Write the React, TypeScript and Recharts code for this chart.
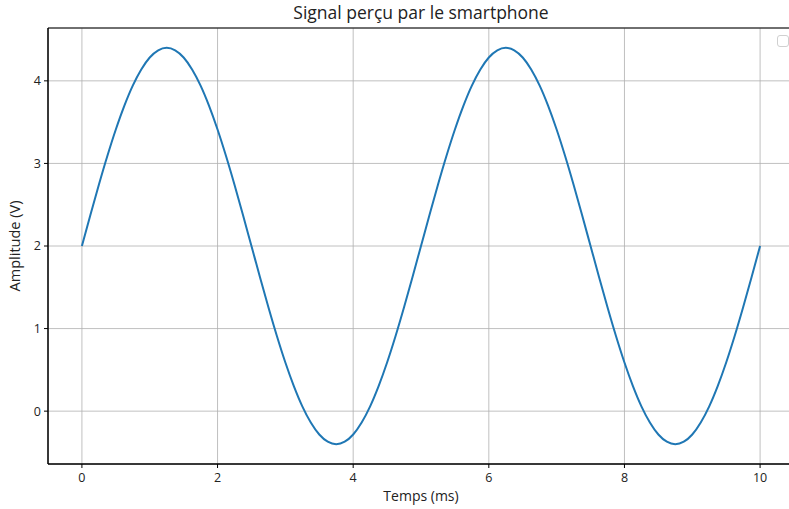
import React from "react";
import { LineChart, Line, XAxis, YAxis, CartesianGrid, ReferenceArea, Label } from "recharts";

const timeMs = [
  0, 0.125, 0.25, 0.375, 0.5, 0.625, 0.75, 0.875, 1, 1.125, 1.25, 1.375, 1.5, 1.625, 1.75, 1.875, 2, 2.125, 2.25, 2.375,
  2.5, 2.625, 2.75, 2.875, 3, 3.125, 3.25, 3.375, 3.5, 3.625, 3.75, 3.875, 4, 4.125, 4.25, 4.375, 4.5, 4.625, 4.75, 4.875,
  5, 5.125, 5.25, 5.375, 5.5, 5.625, 5.75, 5.875, 6, 6.125, 6.25, 6.375, 6.5, 6.625, 6.75, 6.875, 7, 7.125, 7.25, 7.375,
  7.5, 7.625, 7.75, 7.875, 8, 8.125, 8.25, 8.375, 8.5, 8.625, 8.75, 8.875, 9, 9.125, 9.25, 9.375, 9.5, 9.625, 9.75, 9.875, 10,
];
const amplitudeV = [
  2.0, 2.375, 2.742, 3.09, 3.411, 3.697, 3.942, 4.138, 4.283, 4.37, 4.4, 4.37, 4.283, 4.138, 3.942, 3.697, 3.411, 3.09, 2.742, 2.375,
  2.0, 1.625, 1.258, 0.91, 0.589, 0.303, 0.058, -0.138, -0.283, -0.37, -0.4, -0.37, -0.283, -0.138, 0.058, 0.303, 0.589, 0.91, 1.258, 1.625,
  2.0, 2.375, 2.742, 3.09, 3.411, 3.697, 3.942, 4.138, 4.283, 4.37, 4.4, 4.37, 4.283, 4.138, 3.942, 3.697, 3.411, 3.09, 2.742, 2.375,
  2.0, 1.625, 1.258, 0.91, 0.589, 0.303, 0.058, -0.138, -0.283, -0.37, -0.4, -0.37, -0.283, -0.138, 0.058, 0.303, 0.589, 0.91, 1.258, 1.625, 2.0,
];
const xTicks = [0, 2, 4, 6, 8, 10];
const yTicks = [0, 1, 2, 3, 4];
const xDomain: [number, number] = [-0.5, 10.5];
const yDomain: [number, number] = [-0.64, 4.64];

const data = timeMs.map((t, i) => ({ t, v: amplitudeV[i] }));

const FONT = "'Open Sans', sans-serif";
const TXT = "#222";

export default function App() {
  return (
    <div style={{ position: "absolute", left: 0, top: 0, width: 789, height: 509, overflow: "hidden", background: "#fff" }}>
      <div style={{ position: "absolute", left: 0, top: 0, width: 842, textAlign: "center", fontFamily: FONT, fontSize: 17.5, lineHeight: "24px", color: TXT }}>
        Signal perçu par le smartphone
      </div>
      <div
        style={{
          position: "absolute",
          left: 777,
          top: 35,
          width: 12,
          height: 12,
          border: "1px solid #d0d0d0",
          borderRadius: 3,
          boxSizing: "border-box",
          background: "#fff",
        }}
      />
      <div style={{ position: "absolute", left: 0, top: 0 }}>
        <LineChart width={800} height={509} data={data} margin={{ top: 28, right: 6, bottom: 0, left: 0 }}>
          <CartesianGrid stroke="#b0b0b0" strokeWidth={0.8} />
          <XAxis
            dataKey="t"
            type="number"
            domain={xDomain}
            ticks={xTicks}
            allowDataOverflow
            height={45}
            tickSize={4}
            tickMargin={5}
            stroke="#000"
            tick={{ fill: TXT, fontSize: 12.5, fontFamily: FONT }}
          >
            <Label value="Temps (ms)" position="insideBottom" offset={8} style={{ fill: TXT, fontSize: 14, fontFamily: FONT }} />
          </XAxis>
          <YAxis
            type="number"
            domain={yDomain}
            ticks={yTicks}
            allowDataOverflow
            width={48}
            tickSize={4}
            tickMargin={3}
            stroke="#000"
            tick={{ fill: TXT, fontSize: 12.5, fontFamily: FONT }}
          >
            <Label
              value="Amplitude (V)"
              angle={-90}
              position="insideLeft"
              offset={15}
              style={{ fill: TXT, fontSize: 14.5, fontFamily: FONT, textAnchor: "middle" }}
            />
          </YAxis>
          <ReferenceArea x1={-0.5} x2={10.5} y1={-0.64} y2={4.64} stroke="#000" strokeWidth={1} fill="none" ifOverflow="visible" />
          <Line type="monotone" dataKey="v" stroke="#1f77b4" strokeWidth={2} dot={false} isAnimationActive={false} />
        </LineChart>
      </div>
    </div>
  );
}
